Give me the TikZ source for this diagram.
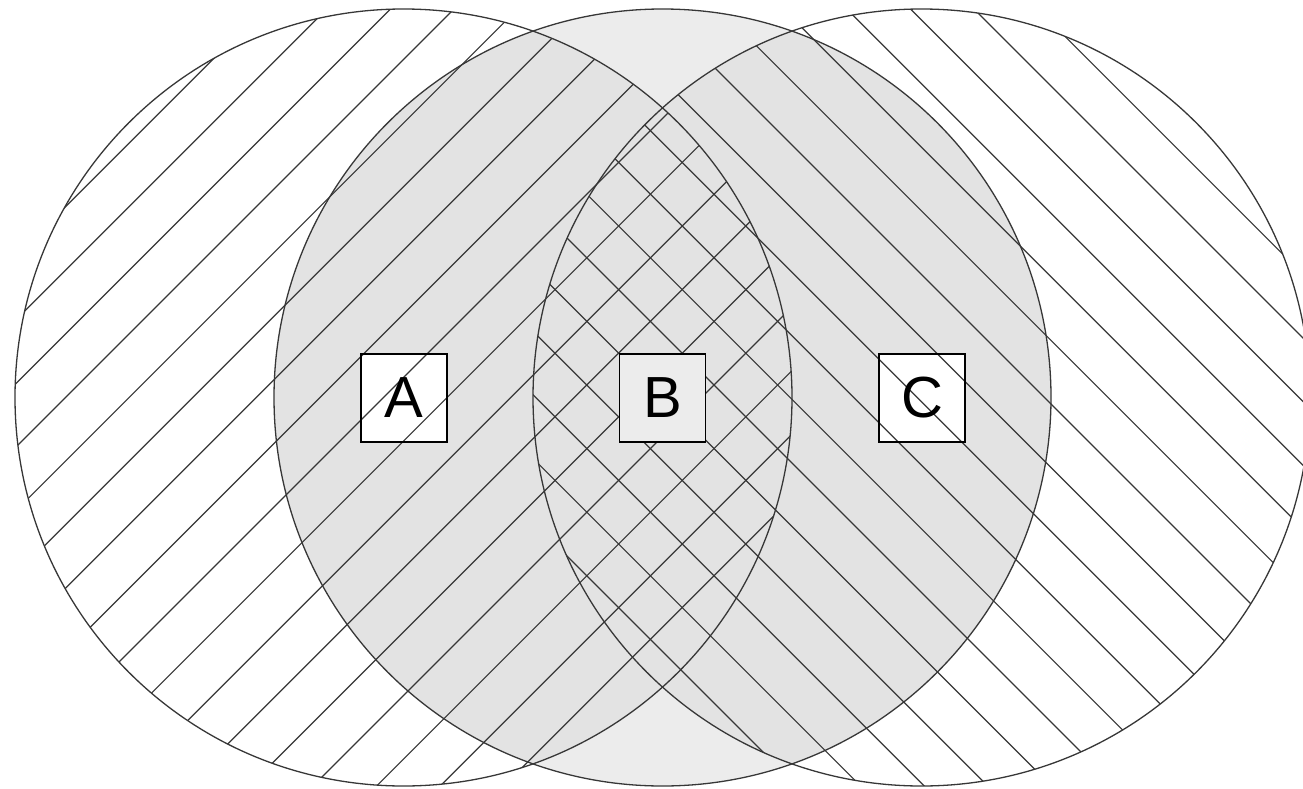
\documentclass[tikz,border=0pt]{standalone}
\usepackage{fontspec}
\setmainfont{Liberation Sans}
\definecolor{midgray}{RGB}{236,236,236}
\definecolor{ovgray}{RGB}{227,227,227}
\definecolor{inkgray}{RGB}{55,55,55}
\tikzset{
  hatchline/.style={draw=inkgray, line width=1.2pt},
  circline/.style={draw=inkgray, line width=1.3pt},
  labelbox/.style={draw=black, line width=1.3pt, minimum width=86pt, minimum height=88pt, inner sep=0pt, font=\fontsize{58}{60}\selectfont, text=black},
}
\begin{document}
\begin{tikzpicture}[x=1pt,y=-1pt]
\useasboundingbox (0,0) rectangle (1303,789);
\coordinate (L) at (403.5,397.5);
\coordinate (M) at (662.5,397.5);
\coordinate (R) at (921.5,397.5);
\def\rad{388.5pt}
% fills
\fill[white] (L) circle[radius=\rad];
\fill[white] (R) circle[radius=\rad];
\fill[midgray] (M) circle[radius=\rad];
\begin{scope}
  \clip (M) circle[radius=\rad];
  \fill[ovgray] (L) circle[radius=\rad];
  \fill[ovgray] (R) circle[radius=\rad];
\end{scope}
% white boxes under hatch
\fill[white] (361,354) rectangle (447,442);
\fill[white] (879,354) rectangle (965,442);
% hatching of left circle
\begin{scope}
  \clip (L) circle[radius=\rad];
  \foreach \k in {-4,...,14}{
    \pgfmathsetmacro{\c}{463+63.6*\k}
    \draw[hatchline] (\c+10,-10) -- (\c-800,800);
  }
\end{scope}
% hatching of right circle
\begin{scope}
  \clip (R) circle[radius=\rad];
  \foreach \k in {-11,...,7}{
    \pgfmathsetmacro{\c}{647+63.6*\k}
    \draw[hatchline] (\c-10,-10) -- (\c+800,800);
  }
\end{scope}
% outlines of circles
\draw[circline] (L) circle[radius=\rad];
\draw[circline] (M) circle[radius=\rad];
\draw[circline] (R) circle[radius=\rad];
% label boxes
\node[labelbox] (A) at (404,398) {A};
\node[labelbox, fill=midgray] (B) at (662.5,398) {B};
\node[labelbox] (C) at (922,398) {C};
\end{tikzpicture}
\end{document}
